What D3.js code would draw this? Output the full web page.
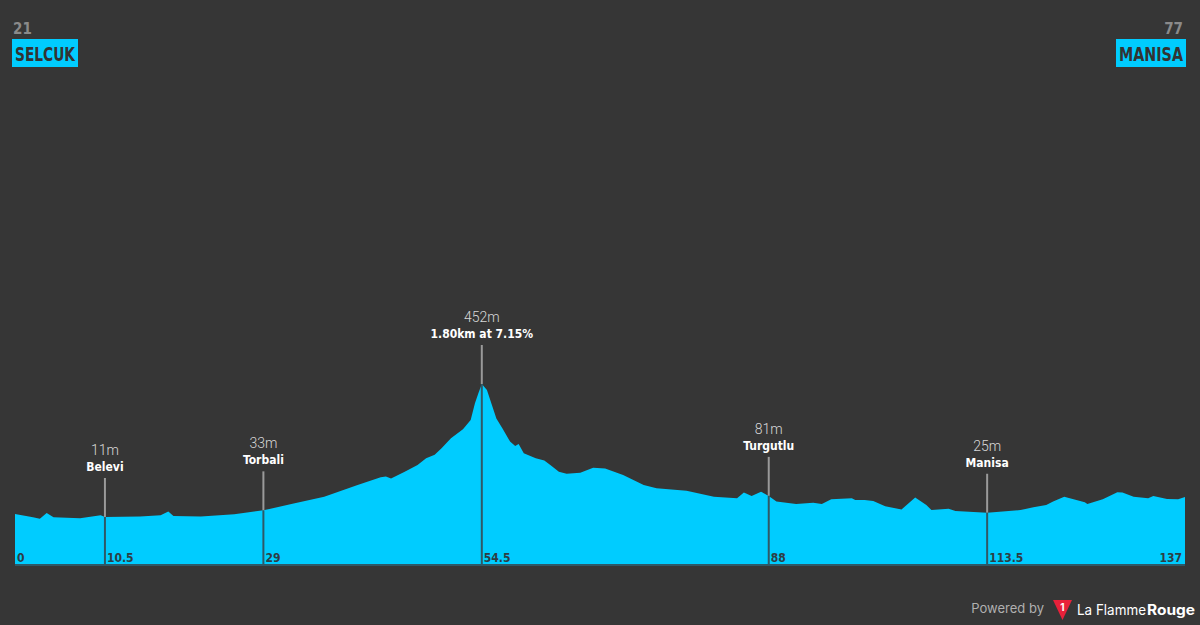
<!DOCTYPE html>
<html>
<head>
<meta charset="utf-8">
<script src="https://cdn.jsdelivr.net/npm/d3@7"></script>
<style>
  html, body { margin: 0; padding: 0; background: #363636; }
  #chart { width: 1200px; height: 625px; }
  .cond { font-stretch: condensed; }
</style>
</head>
<body>
<div id="chart"></div>
<script>
// profile (km, metres)
const profileKm = [0, 2.1, 2.9, 3.7, 4.5, 7.6, 10.0, 10.5, 14.6, 17.0, 17.9, 18.5, 21.7, 25.6, 29.0,
  30.6, 32.4, 36.1, 40.0, 42.7, 43.3, 43.9, 45.5, 47.0, 48.0, 49.0, 49.8, 50.9, 52.3, 53.2,
  53.7, 54.1, 54.5, 55.1, 56.2, 56.9, 57.8, 58.4, 58.8, 59.4, 60.8, 61.8, 62.5, 63.5, 64.4,
  66.0, 67.5, 68.9, 71.0, 73.4, 74.9, 78.4, 81.6, 84.3, 85.1, 86.0, 87.1, 88.0, 88.9, 91.2,
  93.2, 94.2, 95.3, 97.7, 98.1, 99.2, 100.2, 101.6, 103.5, 105.1, 106.4, 107.0, 109.0, 109.8,
  113.5, 117.4, 118.9, 120.4, 121.2, 122.5, 124.9, 125.2, 127.0, 128.7, 129.3, 130.6, 132.3,
  132.9, 134.5, 135.8, 136.6];
const profileElev = [21, 10, 5, 24, 10, 7, 17, 11, 13, 17, 29, 14, 13, 20, 33,
  43, 55, 78, 117, 143, 145, 139, 161, 183, 206, 217, 239, 272, 302, 333,
  388, 421, 452, 432, 338, 305, 261, 246, 253, 222, 206, 198, 183, 161, 154,
  158, 174, 172, 150, 117, 106, 98, 78, 73, 92, 81, 95, 81, 62, 54,
  58, 54, 70, 73, 67, 67, 64, 47, 36, 76, 51, 34, 38, 31,
  25, 34, 43, 51, 62, 78, 60, 54, 70, 93, 92, 78, 73,
  81, 71, 70, 77];

const markerKm = [10.5, 29, 54.5, 88, 113.5];
const markerElev = [11, 33, 452, 81, 25];
const markerName = ["Belevi", "Torbali", "1.80km at 7.15%", "Turgutlu", "Manisa"];

const tickKm = [0, 10.5, 29, 54.5, 88, 113.5, 136.6];
const tickLabel = ["0", "10.5", "29", "54.5", "88", "113.5", "137"];

const startName = "SELCUK", startElev = 21;
const finishName = "MANISA", finishElev = 77;

function draw() {
  const w = 1200, h = 625;
  const left = 15, right = 1185, base = 565;
  const narrow = "'DejaVu Sans Condensed', 'DejaVu Sans', sans-serif";

  const svg = d3.select("#chart").append("svg")
    .attr("width", w).attr("height", h)
    .style("background", "#363636");

  const x = d3.scaleLinear().domain([0, 136.6]).range([left, right]);
  const y = d3.scaleLinear().domain([0, 452]).range([520.3, 384]);

  const area = d3.area()
    .x((d, i) => x(profileKm[i]))
    .y0(base)
    .y1((d, i) => y(profileElev[i]));

  svg.append("path")
    .attr("d", area(profileKm))
    .attr("fill", "#00ccff");

  // bottom line
  svg.append("line")
    .attr("x1", left).attr("x2", right)
    .attr("y1", base).attr("y2", base)
    .attr("stroke", "#2f5866").attr("stroke-width", 2);

  // markers
  const m = svg.selectAll(".marker")
    .data(markerKm)
    .join("g")
    .attr("class", "marker");

  m.append("line")
    .attr("x1", d => x(d)).attr("x2", d => x(d))
    .attr("y1", (d, i) => y(markerElev[i]) - 39)
    .attr("y2", (d, i) => y(markerElev[i]))
    .attr("stroke", "#9a9a9a").attr("stroke-width", 2);

  m.append("line")
    .attr("x1", d => x(d)).attr("x2", d => x(d))
    .attr("y1", (d, i) => y(markerElev[i]))
    .attr("y2", base)
    .attr("stroke", "#2f5866").attr("stroke-width", 2);

  m.append("text")
    .attr("class", "cond")
    .attr("x", d => x(d))
    .attr("y", (d, i) => y(markerElev[i]) - 46)
    .attr("text-anchor", "middle")
    .attr("fill", "#ffffff")
    .attr("font-family", narrow)
    .attr("font-weight", "bold")
    .attr("font-size", 12)
    .text((d, i) => markerName[i]);

  m.append("text")
    .attr("x", d => x(d))
    .attr("y", (d, i) => y(markerElev[i]) - 62)
    .attr("text-anchor", "middle")
    .attr("fill", "#d8d8d8")
    .attr("font-family", "Roboto, sans-serif")
    .attr("font-weight", 300)
    .attr("font-size", 14)
    .text((d, i) => markerElev[i] + "m");

  // distance labels
  svg.selectAll(".tick")
    .data(tickKm)
    .join("text")
    .attr("class", "tick cond")
    .attr("x", (d, i) => i === tickKm.length - 1 ? x(d) - 3 : x(d) + 2)
    .attr("y", 562)
    .attr("text-anchor", (d, i) => i === tickKm.length - 1 ? "end" : "start")
    .attr("fill", "#2e3d44")
    .attr("font-family", narrow)
    .attr("font-weight", "bold")
    .attr("font-size", 12)
    .text((d, i) => tickLabel[i]);

  // start / finish boxes
  function townBox(name, elev, bx, bw, anchorEnd) {
    svg.append("rect")
      .attr("x", bx).attr("y", 39).attr("width", bw).attr("height", 28)
      .attr("fill", "#00ccff");
    svg.append("text")
      .attr("class", "cond")
      .attr("x", bx + bw / 2).attr("y", 61)
      .attr("text-anchor", "middle")
      .attr("fill", "#333333")
      .attr("font-family", narrow)
      .attr("font-weight", "bold")
      .attr("font-size", 20)
      .attr("textLength", bw - 6)
      .attr("lengthAdjust", "spacingAndGlyphs")
      .text(name);
    svg.append("text")
      .attr("class", "cond")
      .attr("x", anchorEnd ? bx + bw - 3 : bx + 1).attr("y", 34)
      .attr("text-anchor", anchorEnd ? "end" : "start")
      .attr("fill", "#8a8a8a")
      .attr("font-family", narrow)
      .attr("font-weight", "bold")
      .attr("font-size", 15)
      .text(elev);
  }
  townBox(startName, startElev, 12, 66, false);
  townBox(finishName, finishElev, 1116, 70, true);

  // footer
  svg.append("text")
    .attr("x", 1044).attr("y", 613)
    .attr("text-anchor", "end")
    .attr("fill", "#b0b0b0")
    .attr("font-family", "Inter, 'Noto Sans', sans-serif")
    .attr("font-size", 13)
    .text("Powered by");

  svg.append("path")
    .attr("d", "M1053,600 L1072,600 L1062.5,620 Z")
    .attr("fill", "#e8213a");
  svg.append("text")
    .attr("x", 1062.5).attr("y", 611)
    .attr("text-anchor", "middle")
    .attr("fill", "#ffffff")
    .attr("font-family", "Inter, sans-serif")
    .attr("font-weight", "bold")
    .attr("font-size", 10)
    .text("1");

  svg.append("text")
    .attr("x", 1077).attr("y", 615)
    .attr("fill", "#ffffff")
    .attr("font-family", "Inter, 'Noto Sans', sans-serif")
    .attr("font-size", 14)
    .attr("textLength", 69)
    .attr("lengthAdjust", "spacingAndGlyphs")
    .text("La Flamme");
  svg.append("text")
    .attr("x", 1147).attr("y", 615)
    .attr("fill", "#ffffff")
    .attr("font-family", "Inter, 'Noto Sans', sans-serif")
    .attr("font-weight", 700)
    .attr("font-size", 14)
    .attr("textLength", 48)
    .attr("lengthAdjust", "spacingAndGlyphs")
    .text("Rouge");
}

draw();
</script>
</body>
</html>
